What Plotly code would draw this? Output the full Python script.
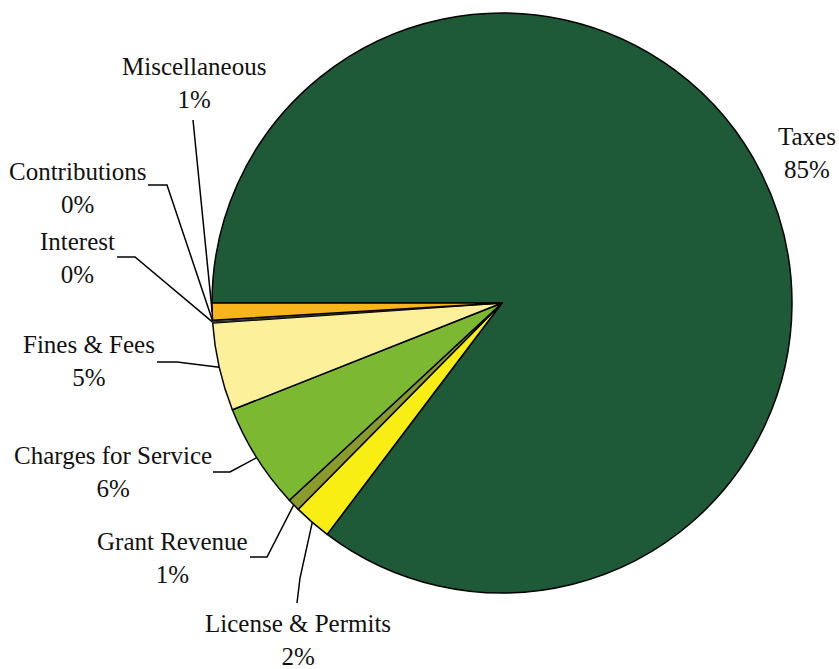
import math
import plotly.graph_objects as go

# Revenue sources, listed clockwise starting at 9 o'clock
categories = ["Taxes", "License & Permits", "Grant Revenue", "Charges for Service",
              "Fines & Fees", "Interest", "Contributions", "Miscellaneous"]
shares = [85.3, 2.1, 0.7, 5.9, 4.9, 0.1, 0.05, 0.95]
colors = ["#1f5a38", "#f8ee14", "#8a9a2c", "#7cb832",
          "#fdf09b", "#2a2a2a", "#2a2a2a", "#f8b41c"]
# the two near-zero wedges are drawn without their own outline
outline_widths = [1.5, 1.5, 1.5, 1.5, 1.5, 0, 0, 1.5]

W, H = 839, 669
CX, CY, R = 502, 303, 290          # pie centre and radius in pixels
START = 270                        # first slice starts at 9 o'clock
FONT = "Liberation Serif"

# label block centres (px) and leader elbows (px) for each category
label_pos = {
    "Taxes": (807, 153),
    "License & Permits": (298, 640),
    "Grant Revenue": (172, 558),
    "Charges for Service": (113, 472),
    "Fines & Fees": (89, 361),
    "Interest": (77, 258),
    "Contributions": (78, 188),
    "Miscellaneous": (194, 83),
}
leader_elbows = {
    "License & Permits": [(297, 603), (300, 578)],
    "Grant Revenue": [(250, 557), (267, 557)],
    "Charges for Service": [(213, 472), (230, 472)],
    "Fines & Fees": [(157, 362), (177, 362)],
    "Interest": [(117, 257), (135, 257)],
    "Contributions": [(148, 185), (167, 185)],
    "Miscellaneous": [(193, 120)],
}


def px(x):
    return x / W


def py(y):
    return 1 - y / H


fig = go.Figure(go.Pie(
    labels=categories,
    values=shares,
    sort=False,
    direction="clockwise",
    rotation=START,
    marker=dict(colors=colors, line=dict(color="#000000", width=outline_widths)),
    textinfo="none",
    hoverinfo="label+percent",
    showlegend=False,
    domain=dict(x=[px(CX - R), px(CX + R)], y=[py(CY + R), py(CY - R)]),
))

total = sum(shares)
annotations = []
shapes = []
acc = 0.0
for name, val in zip(categories, shares):
    mid = START + (acc + val / 2) / total * 360
    acc += val
    pct = round(val / total * 100)
    lx, ly = label_pos[name]
    annotations.append(dict(
        x=px(lx), y=py(ly), xref="paper", yref="paper",
        text=f"{name}<br>{pct}%", showarrow=False,
        xanchor="center", yanchor="middle", align="center",
        font=dict(family=FONT, size=25, color="#111111"),
    ))
    if name in leader_elbows:
        a = math.radians(mid)
        ex = CX + R * math.sin(a)
        ey = CY - R * math.cos(a)
        pts = leader_elbows[name] + [(ex, ey)]
        path = "M " + " L ".join(f"{px(x):.5f},{py(y):.5f}" for x, y in pts)
        shapes.append(dict(type="path", path=path, xref="paper", yref="paper",
                           line=dict(color="#000000", width=1.5)))

fig.update_layout(
    width=W, height=H,
    margin=dict(l=0, r=0, t=0, b=0),
    paper_bgcolor="#ffffff",
    plot_bgcolor="#ffffff",
    font=dict(family=FONT),
    annotations=annotations,
    shapes=shapes,
)

fig.write_html("out.html")
